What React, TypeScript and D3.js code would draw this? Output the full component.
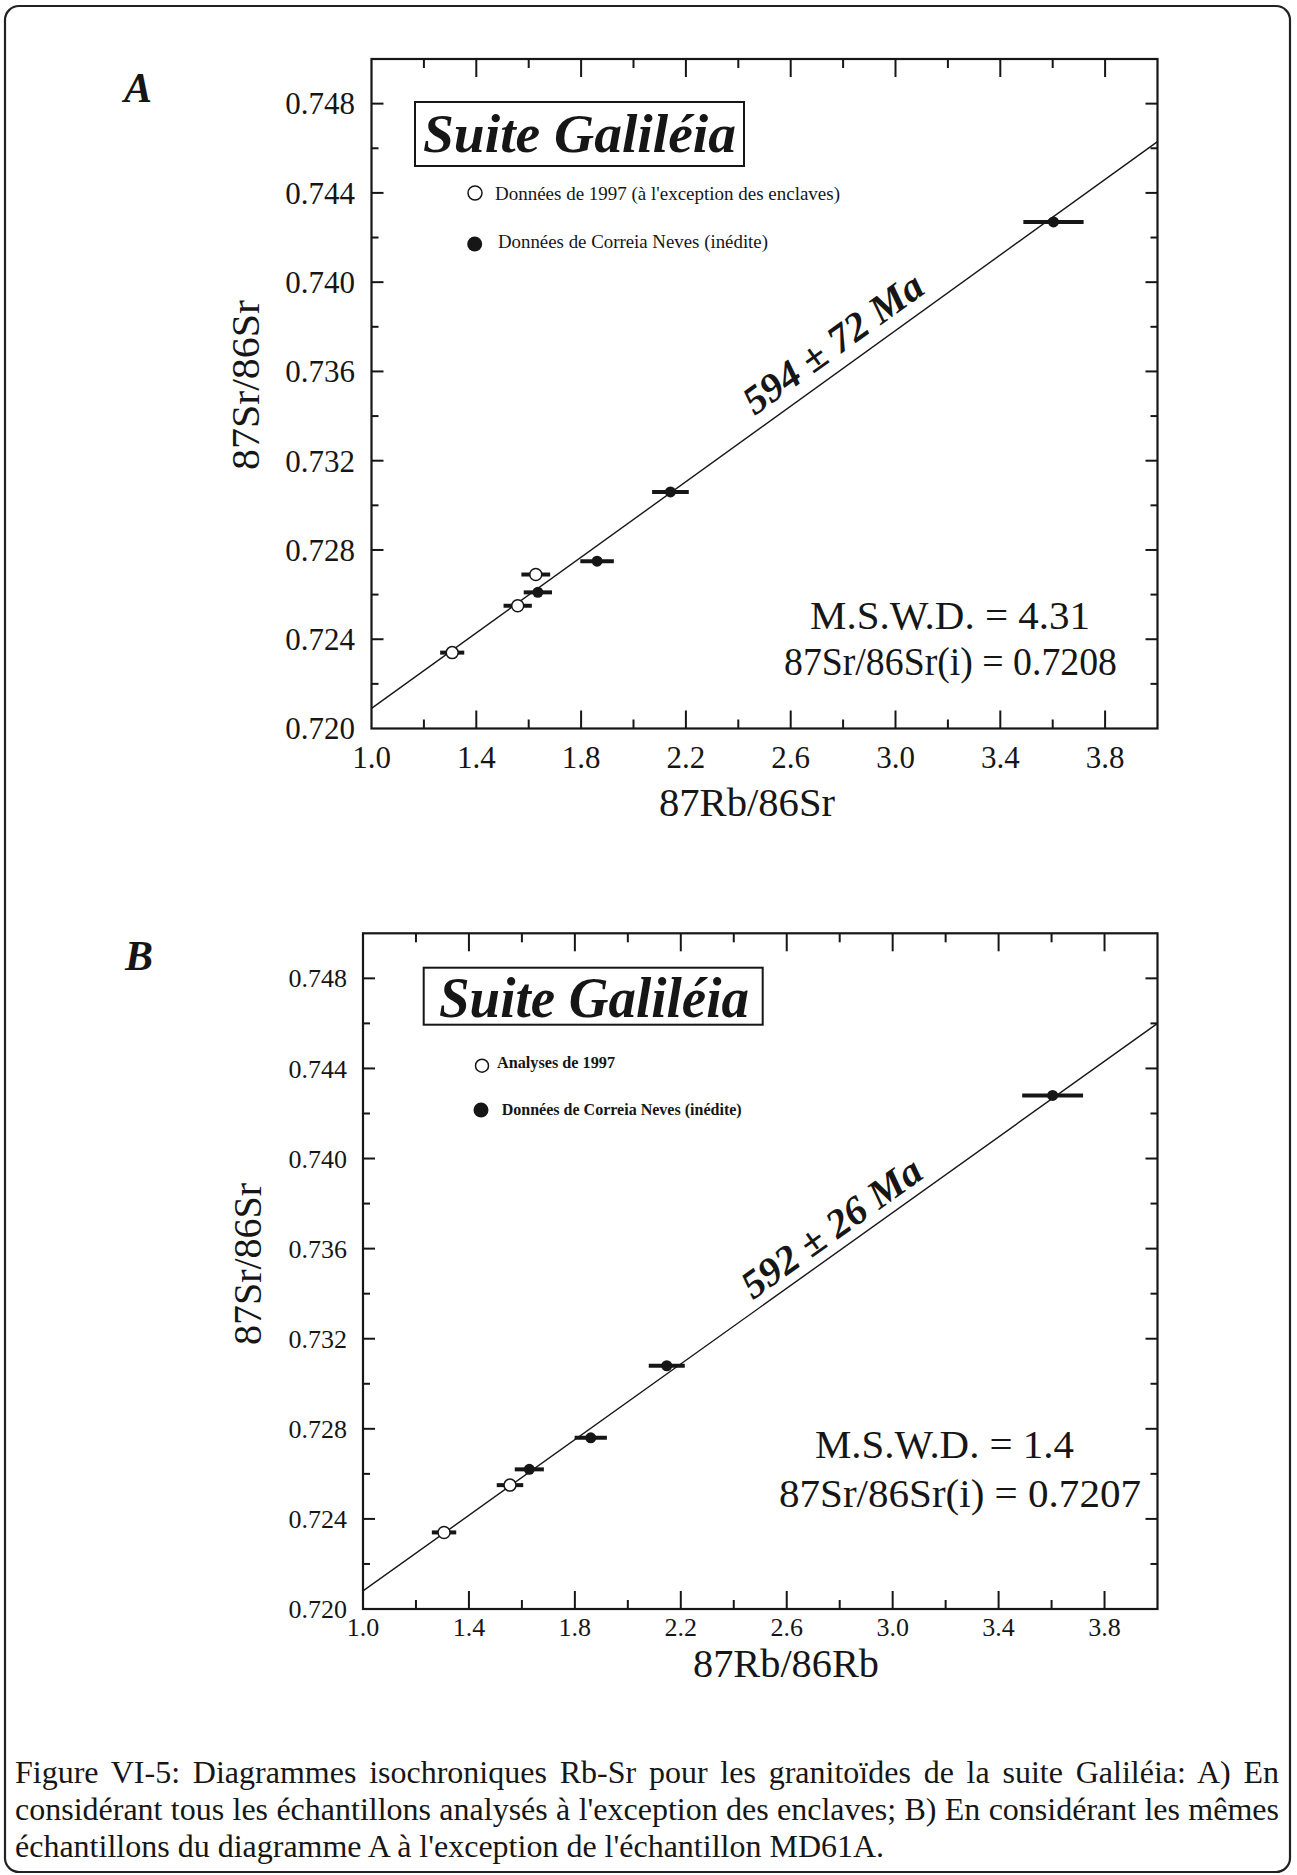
import React, { useLayoutEffect, useRef, useState } from "react";
import * as d3 from "d3";

// ---------- data ----------
const xMajorTicks = [1.0, 1.4, 1.8, 2.2, 2.6, 3.0, 3.4, 3.8];
const xMinorTicks = [1.2, 1.6, 2.0, 2.4, 2.8, 3.2, 3.6];
const xTickLabels = ["1.0", "1.4", "1.8", "2.2", "2.6", "3.0", "3.4", "3.8"];
const yMajorTicks = [0.72, 0.724, 0.728, 0.732, 0.736, 0.74, 0.744, 0.748];
const yMinorTicks = [0.722, 0.726, 0.73, 0.734, 0.738, 0.742, 0.746];
const yTickLabels = ["0.720", "0.724", "0.728", "0.732", "0.736", "0.740", "0.744", "0.748"];
const xDomain = [1.0, 4.0];
const yDomain = [0.72, 0.75];

// Panel A
const openA_x = [1.308, 1.558, 1.627];
const openA_y = [0.7234, 0.7255, 0.7269];
const openA_err = [0.046, 0.054, 0.055];
const filledA_x = [1.635, 1.861, 2.141, 3.603];
const filledA_y = [0.7261, 0.7275, 0.7306, 0.7427];
const filledA_err = [0.054, 0.064, 0.07, 0.115];
const isochronA = [[1.0, 0.7209], [4.0, 0.7463]];
const legendA = ["Données de 1997 (à l'exception des enclaves)", "Données de Correia Neves (inédite)"];
const statsA = ["M.S.W.D. = 4.31", "87Sr/86Sr(i) = 0.7208"];
const ageA = "594 ± 72 Ma";
const xTitleA = "87Rb/86Sr";

// Panel B
const openB_x = [1.306, 1.555];
const openB_y = [0.7234, 0.7255];
const openB_err = [0.046, 0.05];
const filledB_x = [1.628, 1.86, 2.147, 3.604];
const filledB_y = [0.7262, 0.7276, 0.7308, 0.7428];
const filledB_err = [0.055, 0.061, 0.068, 0.115];
const isochronB = [[1.0, 0.7208], [4.0, 0.746]];
const legendB = ["Analyses de 1997", "Données de Correia Neves (inédite)"];
const statsB = ["M.S.W.D. = 1.4", "87Sr/86Sr(i) = 0.7207"];
const ageB = "592 ± 26 Ma";
const xTitleB = "87Rb/86Rb";

const yTitle = "87Sr/86Sr";
const suiteTitle = "Suite Galiléia";
const caption = [
  "Figure VI-5: Diagrammes isochroniques Rb-Sr pour les granitoïdes de la suite Galiléia: A) En",
  "considérant tous les échantillons analysés à l'exception des enclaves; B) En considérant les mêmes",
  "échantillons du diagramme A à l'exception de l'échantillon MD61A.",
];

const FONT = "'Liberation Serif', 'Times New Roman', Times, serif";
const INK = "#161616";

type Layout = {
  letter: string; letterX: number; letterY: number; letterSize: number;
  left: number; right: number; top: number; bottom: number;
  box: [number, number, number, number]; titleX: number; titleY: number; titleLen: number; titleSize: number;
  leg1: [number, number, number]; leg1Text: [number, number, number];
  leg2: [number, number, number]; leg2Text: [number, number, number];
  legSize: number; legWeight: string;
  yLabRight: number; yLabSize: number; xLabBase: number; xLabSize: number;
  xTitleX: number; xTitleY: number; xTitleLen: number;
  yTitleX: number; yTitleY: number; yTitleLen: number;
  stat1: [number, number, number]; stat2: [number, number, number]; statSize: number;
  ageXm: number; ageOff: number; ageLen: number;
};

const layoutA: Layout = {
  letter: "A", letterX: 124, letterY: 102, letterSize: 42,
  left: 371.5, right: 1157.5, top: 59, bottom: 728.5,
  box: [415, 102, 329, 64], titleX: 423, titleY: 152, titleLen: 313, titleSize: 54,
  leg1: [475, 193, 7], leg1Text: [495, 199.5, 345],
  leg2: [474.7, 244, 7.5], leg2Text: [498, 248, 270],
  legSize: 18, legWeight: "normal",
  yLabRight: 355, yLabSize: 31, xLabBase: 768, xLabSize: 31,
  xTitleX: 747, xTitleY: 816, xTitleLen: 176,
  yTitleX: 259, yTitleY: 385, yTitleLen: 170,
  stat1: [810, 629, 280], stat2: [784, 675, 333], statSize: 40,
  ageXm: 2.82, ageOff: 13, ageLen: 212,
};

const layoutB: Layout = {
  letter: "B", letterX: 125, letterY: 970, letterSize: 42,
  left: 363, right: 1157.5, top: 933.3, bottom: 1609,
  box: [423.7, 967.7, 339, 57], titleX: 439, titleY: 1017, titleLen: 310, titleSize: 56,
  leg1: [482, 1065.7, 6.5], leg1Text: [497, 1068.3, 118],
  leg2: [481, 1110, 7.5], leg2Text: [501.7, 1115, 240],
  legSize: 17, legWeight: "bold",
  yLabRight: 347, yLabSize: 26, xLabBase: 1636, xLabSize: 26,
  xTitleX: 786, xTitleY: 1677, xTitleLen: 186,
  yTitleX: 261, yTitleY: 1264, yTitleLen: 162,
  stat1: [815, 1458, 259], stat2: [779, 1507, 362], statSize: 41,
  ageXm: 2.82, ageOff: 10, ageLen: 212,
};

type PanelProps = {
  L: Layout;
  openX: number[]; openY: number[]; openErr: number[];
  filledX: number[]; filledY: number[]; filledErr: number[];
  iso: number[][]; legend: string[]; stats: string[]; age: string; xTitle: string;
  clipId: string;
};

function Panel({ L, openX, openY, openErr, filledX, filledY, filledErr, iso, legend, stats, age, xTitle, clipId }: PanelProps) {
  const x = d3.scaleLinear().domain(xDomain).range([L.left, L.right]);
  const y = d3.scaleLinear().domain(yDomain).range([L.bottom, L.top]);
  const lineGen = d3.line<number[]>().x((d) => x(d[0])).y((d) => y(d[1]));
  const slope = (iso[1][1] - iso[0][1]) / (iso[1][0] - iso[0][0]);
  const isoAt = (xv: number) => iso[0][1] + slope * (xv - iso[0][0]);
  const angle = (Math.atan2(y(iso[1][1]) - y(iso[0][1]), x(iso[1][0]) - x(iso[0][0])) * 180) / Math.PI;
  const ax = x(L.ageXm);
  const ay = y(isoAt(L.ageXm));

  const majX = 18, minX = 9, majY = 12, minY = 7;
  return (
    <g>
      <text x={L.letterX} y={L.letterY} fontFamily={FONT} fontWeight="bold" fontStyle="italic" fontSize={L.letterSize} fill={INK}>
        {L.letter}
      </text>
      <defs>
        <clipPath id={clipId}>
          <rect x={L.left} y={L.top} width={L.right - L.left} height={L.bottom - L.top} />
        </clipPath>
      </defs>
      {/* ticks */}
      <g stroke={INK} strokeWidth={2}>
        {xMajorTicks.filter((t) => t > xDomain[0]).map((t) => (
          <g key={"xM" + t}>
            <line x1={x(t)} x2={x(t)} y1={L.bottom} y2={L.bottom - majX} />
            <line x1={x(t)} x2={x(t)} y1={L.top} y2={L.top + majX} />
          </g>
        ))}
        {xMinorTicks.map((t) => (
          <g key={"xm" + t}>
            <line x1={x(t)} x2={x(t)} y1={L.bottom} y2={L.bottom - minX} />
            <line x1={x(t)} x2={x(t)} y1={L.top} y2={L.top + minX} />
          </g>
        ))}
        {yMajorTicks.filter((t) => t > yDomain[0]).map((t) => (
          <g key={"yM" + t}>
            <line x1={L.left} x2={L.left + majY} y1={y(t)} y2={y(t)} />
            <line x1={L.right} x2={L.right - majY} y1={y(t)} y2={y(t)} />
          </g>
        ))}
        {yMinorTicks.map((t) => (
          <g key={"ym" + t}>
            <line x1={L.left} x2={L.left + minY} y1={y(t)} y2={y(t)} />
            <line x1={L.right} x2={L.right - minY} y1={y(t)} y2={y(t)} />
          </g>
        ))}
      </g>
      {/* tick labels */}
      <g fontFamily={FONT} fill={INK}>
        {xMajorTicks.map((t, i) => (
          <text key={"xl" + t} x={x(t)} y={L.xLabBase} textAnchor="middle" fontSize={L.xLabSize}>
            {xTickLabels[i]}
          </text>
        ))}
        {yMajorTicks.map((t, i) => (
          <text key={"yl" + t} x={L.yLabRight} y={y(t)} dy="0.35em" textAnchor="end" fontSize={L.yLabSize}>
            {yTickLabels[i]}
          </text>
        ))}
      </g>
      {/* frame */}
      <rect x={L.left} y={L.top} width={L.right - L.left} height={L.bottom - L.top} fill="none" stroke={INK} strokeWidth={2.2} />
      {/* axis titles */}
      <text x={L.xTitleX} y={L.xTitleY} textAnchor="middle" fontFamily={FONT} fontSize={40} fill={INK}
        textLength={L.xTitleLen} lengthAdjust="spacingAndGlyphs">{xTitle}</text>
      <text transform={`translate(${L.yTitleX},${L.yTitleY}) rotate(-90)`} textAnchor="middle" fontFamily={FONT} fontSize={40} fill={INK}
        textLength={L.yTitleLen} lengthAdjust="spacingAndGlyphs">{yTitle}</text>
      {/* title box */}
      <rect x={L.box[0]} y={L.box[1]} width={L.box[2]} height={L.box[3]} fill="white" stroke={INK} strokeWidth={2} />
      <text x={L.titleX} y={L.titleY} fontFamily={FONT} fontWeight="bold" fontStyle="italic" fontSize={L.titleSize} fill={INK}
        textLength={L.titleLen} lengthAdjust="spacingAndGlyphs">{suiteTitle}</text>
      {/* legend */}
      <circle cx={L.leg1[0]} cy={L.leg1[1]} r={L.leg1[2]} fill="white" stroke={INK} strokeWidth={1.5} />
      <text x={L.leg1Text[0]} y={L.leg1Text[1]} fontFamily={FONT} fontSize={L.legSize} fontWeight={L.legWeight} fill={INK}
        textLength={L.leg1Text[2]} lengthAdjust="spacingAndGlyphs">{legend[0]}</text>
      <circle cx={L.leg2[0]} cy={L.leg2[1]} r={L.leg2[2]} fill={INK} />
      <text x={L.leg2Text[0]} y={L.leg2Text[1]} fontFamily={FONT} fontSize={L.legSize} fontWeight={L.legWeight} fill={INK}
        textLength={L.leg2Text[2]} lengthAdjust="spacingAndGlyphs">{legend[1]}</text>
      {/* isochron */}
      <path d={lineGen(iso) || ""} fill="none" stroke={INK} strokeWidth={1.4} clipPath={`url(#${clipId})`} />
      <g transform={`translate(${ax},${ay}) rotate(${angle})`}>
        <text x={0} y={-L.ageOff} textAnchor="middle" fontFamily={FONT} fontWeight="bold" fontStyle="italic" fontSize={40} fill={INK}
          textLength={L.ageLen} lengthAdjust="spacingAndGlyphs">{age}</text>
      </g>
      {/* error bars */}
      <g stroke={INK} strokeWidth={4}>
        {openX.map((v, i) => (
          <line key={"oe" + i} x1={x(v - openErr[i])} x2={x(v + openErr[i])} y1={y(openY[i])} y2={y(openY[i])} />
        ))}
        {filledX.map((v, i) => (
          <line key={"fe" + i} x1={x(v - filledErr[i])} x2={x(v + filledErr[i])} y1={y(filledY[i])} y2={y(filledY[i])} />
        ))}
      </g>
      {/* markers */}
      {openX.map((v, i) => (
        <circle key={"o" + i} cx={x(v)} cy={y(openY[i])} r={6} fill="white" stroke={INK} strokeWidth={1.5} />
      ))}
      {filledX.map((v, i) => (
        <circle key={"f" + i} cx={x(v)} cy={y(filledY[i])} r={5.5} fill={INK} />
      ))}
      {/* stats */}
      <text x={L.stat1[0]} y={L.stat1[1]} fontFamily={FONT} fontSize={L.statSize} fill={INK}
        textLength={L.stat1[2]} lengthAdjust="spacingAndGlyphs">{stats[0]}</text>
      <text x={L.stat2[0]} y={L.stat2[1]} fontFamily={FONT} fontSize={L.statSize} fill={INK}
        textLength={L.stat2[2]} lengthAdjust="spacingAndGlyphs">{stats[1]}</text>
    </g>
  );
}

const CAP_LEFT = 15;
const CAP_RIGHT = 1279;
const CAP_SIZE = 32;
const CAP_BASE = [1783, 1820, 1857];

function Caption() {
  const refs = useRef<(SVGTextElement | null)[]>([]);
  const [ws, setWs] = useState<number[]>([0, 0, 0]);
  useLayoutEffect(() => {
    const next = caption.map((line, i) => {
      const el = refs.current[i];
      if (!el || i === caption.length - 1) return 0;
      const natural = el.getComputedTextLength();
      const spaces = line.split(" ").length - 1;
      return spaces > 0 ? (CAP_RIGHT - CAP_LEFT - natural) / spaces : 0;
    });
    setWs(next);
  }, []);
  return (
    <g fontFamily={FONT} fontSize={CAP_SIZE} fill={INK}>
      {caption.map((line, i) => (
        <text key={i} ref={(el) => { refs.current[i] = el; }} x={CAP_LEFT} y={CAP_BASE[i]}
          style={{ wordSpacing: `${ws[i]}px` }}>{line}</text>
      ))}
    </g>
  );
}

export default function App() {
  return (
    <svg width={1297} height={1875} viewBox="0 0 1297 1875"
      style={{ position: "absolute", left: 0, top: 0, background: "white" }}>
      <rect x={0} y={0} width={1297} height={1875} fill="white" />
      <rect x={5} y={6} width={1285} height={1866} rx={14} fill="none" stroke="#222" strokeWidth={2.2} />
      <Panel L={layoutA} openX={openA_x} openY={openA_y} openErr={openA_err}
        filledX={filledA_x} filledY={filledA_y} filledErr={filledA_err}
        iso={isochronA} legend={legendA} stats={statsA} age={ageA} xTitle={xTitleA} clipId="clipA" />
      <Panel L={layoutB} openX={openB_x} openY={openB_y} openErr={openB_err}
        filledX={filledB_x} filledY={filledB_y} filledErr={filledB_err}
        iso={isochronB} legend={legendB} stats={statsB} age={ageB} xTitle={xTitleB} clipId="clipB" />
      <Caption />
    </svg>
  );
}
